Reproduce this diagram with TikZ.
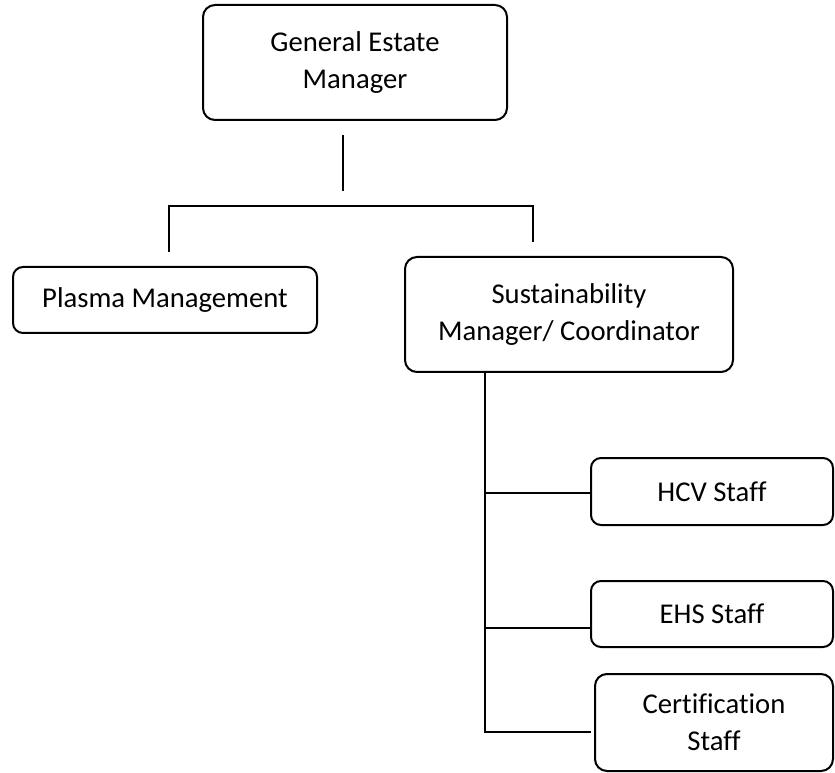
\documentclass[tikz,border=0pt]{standalone}
\usepackage{fontspec}
\setmainfont{Carlito}[Ligatures={NoCommon}]
\begin{document}
\begin{tikzpicture}[x=0.75pt,y=-0.75pt,
  box/.style={draw, line width=1.5pt, rounded corners=9pt, align=center,
    font=\fontsize{21.5}{27.75}\selectfont, inner sep=0pt},
  link/.style={draw, line width=0.8pt}]
\useasboundingbox (0,0) rectangle (835,773);
% boxes
\node[box, minimum width=228pt, minimum height=86.25pt] (gem) at (355,62.5) {General Estate\\Manager};
\node[box, rounded corners=7.5pt, minimum width=228pt, minimum height=49.5pt] (plasma) at (165,300) {Plasma Management};
\node[box, minimum width=246pt, minimum height=86.25pt] (sust) at (569,314.5) {Sustainability\\Manager/ Coordinator};
\node[box, rounded corners=7.5pt, minimum width=181.5pt, minimum height=50.25pt] (hcv) at (712,491.5) {HCV Staff};
\node[box, rounded corners=7.5pt, minimum width=181.5pt, minimum height=49.5pt] (ehs) at (712,614) {EHS Staff};
\node[box, minimum width=178.5pt, minimum height=72.75pt] (cert) at (714,722.5) {Certification\\Staff};
% connector points
\coordinate (gemdrop) at (343,135);
\coordinate (gemend) at (343,191);
\coordinate (bl) at (169,206);
\coordinate (br) at (533,206);
\coordinate (blend) at (169,252);
\coordinate (brend) at (533,242);
\coordinate (spinetop) at (485,372);
\coordinate (j1) at (485,493);
\coordinate (hcvin) at (591,493);
\coordinate (j2) at (485,628);
\coordinate (ehsin) at (591,628);
\coordinate (spinebot) at (485,732);
\coordinate (certin) at (591,732);
% connectors
\draw[link] (gemdrop) -- (gemend);
\draw[link] (blend) -- (bl) -- (br) -- (brend);
\draw[link] (spinetop) -- (spinebot) -- (certin);
\draw[link] (j1) -- (hcvin);
\draw[link] (j2) -- (ehsin);
\end{tikzpicture}
\end{document}
